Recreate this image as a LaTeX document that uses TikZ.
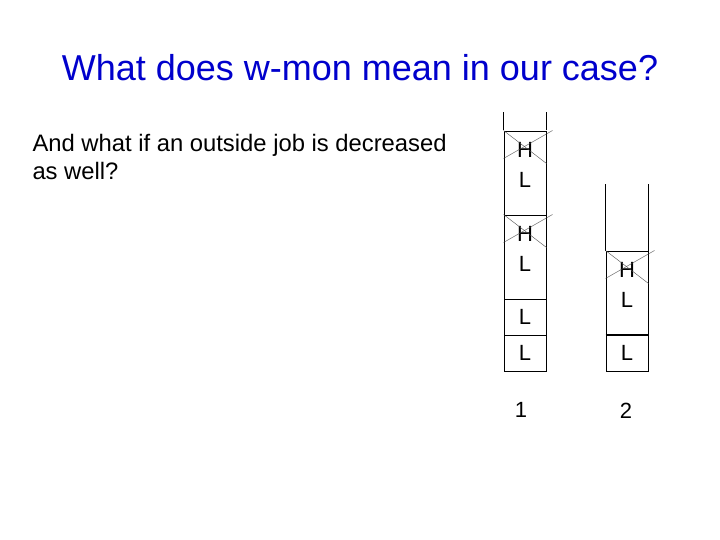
\documentclass[tikz,border=0pt]{standalone}
\usepackage{fontspec}
\setmainfont{Liberation Sans}
\usetikzlibrary{matrix,positioning}

\definecolor{titleblue}{RGB}{0,0,204}

% an H job on top of an L job
\newcommand\hjob{\begin{tabular}[b]{@{}c@{}}H\\L\end{tabular}}

\tikzset{
    stackcell/.style={draw, minimum width=42pt, anchor=center,
        font=\fontsize{22}{30}\selectfont},
    tallbox/.style={minimum height=84pt, text depth=23pt},
    lowbox/.style={minimum height=36pt},
    cross/.style={black!70, line width=0.4pt}
}

\begin{document}
\begin{tikzpicture}[x=1pt, y=-1pt, line width=1pt]
    \useasboundingbox (0,0) rectangle (720,540);

    \node[text=titleblue, font=\fontsize{36}{40}\selectfont] (title) at (360,68)
        {What does w-mon mean in our case?};
    \node[anchor=base west, align=left, inner sep=0pt,
        font=\fontsize{23.8}{28}\selectfont] (question) at (32,180)
        {And what if an outside job is decreased\\as well?};

    % machine 1
    \matrix (stack one) [matrix of nodes, nodes in empty cells,
        nodes={stackcell}, inner sep=0pt,
        row sep=-\pgflinewidth, anchor=south
    ] at (525,372) {
        |[tallbox]| \hjob \\
        |[tallbox]| \hjob \\
        |[lowbox]| L \\
        |[lowbox]| L \\
    };
    \draw (stack one-1-1.north west) -- ++(0,-18);
    \draw (stack one-1-1.north east) -- ++(0,-18);
    \node[font=\fontsize{22}{26}\selectfont, below=27pt of stack one.south,
        xshift=-4pt] (label one) {1};

    % machine 2
    \matrix (stack two) [matrix of nodes, nodes in empty cells,
        nodes={stackcell}, inner sep=0pt,
        row sep=-\pgflinewidth, anchor=south
    ] at (627,372) {
        |[tallbox]| \hjob \\
        |[lowbox]| L \\
    };
    \draw (stack two-1-1.north west) -- ++(0,-66);
    \draw (stack two-1-1.north east) -- ++(0,-66);
    \draw[line width=2pt] (stack two-2-1.north west) -- (stack two-2-1.north east);
    \node[font=\fontsize{22}{26}\selectfont, below=27pt of stack two.south,
        xshift=-1pt] (label two) {2};

    % crossed out H jobs
    \foreach \m/\r in {stack one/1, stack one/2, stack two/1} {
        \draw[cross] (\m-\r-1.north west) -- ([yshift=-33pt]\m-\r-1.north east);
        \draw[cross] ([yshift=-28pt]\m-\r-1.north west) -- ([xshift=6pt]\m-\r-1.north east);
    }
\end{tikzpicture}
\end{document}
